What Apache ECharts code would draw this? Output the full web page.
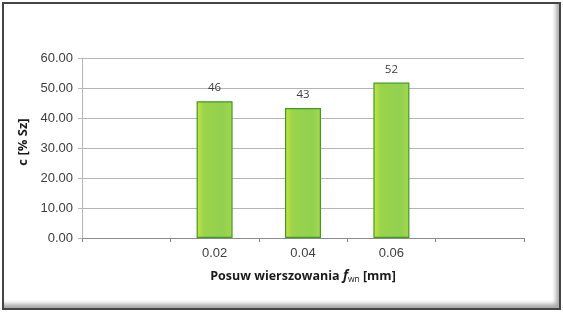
<!DOCTYPE html>
<html><head><meta charset="utf-8">
<script src="https://cdn.jsdelivr.net/npm/echarts@6/dist/echarts.min.js"></script>
<style>
html,body{margin:0;padding:0;background:#fff;}
#frame{position:absolute;left:2px;top:2px;width:555px;height:304px;border:2px solid #444;box-shadow:inset -3px -4px 4px rgba(0,0,0,0.35);background:#fff;}
#c{position:absolute;left:0;top:0;width:563px;height:314px;}
</style></head>
<body>
<div id="frame"></div>
<div id="c"></div>
<script>
var categories = ['', '0.02', '0.04', '0.06', ''];
var values = [null, 45.6, 43.3, 51.8, null];
var yTicks = [0, 10, 20, 30, 40, 50, 60];

var chart = echarts.init(document.getElementById('c'), null, {renderer:'canvas'});
chart.setOption({
  animation:false,
  backgroundColor:'transparent',
  grid:{left:82, right:39, top:58, bottom:76, containLabel:false},
  xAxis:{
    type:'category', data:categories, boundaryGap:true,
    axisLine:{lineStyle:{color:'#8c8c8c', width:1}},
    axisTick:{show:true, length:4, lineStyle:{color:'#8c8c8c'}},
    axisLabel:{color:'#404040', fontFamily:'Liberation Sans, Arial', fontSize:13, margin:9},
    name:'{b|Posuw wierszowania }{i|f}{s|wn}{b| [mm]}',
    nameLocation:'middle', nameGap:31,
    nameTextStyle:{rich:{
      b:{fontFamily:'Open Sans', fontWeight:'bold', fontSize:12.5, color:'#1a1a1a'},
      i:{fontFamily:'Open Sans', fontWeight:'bold', fontStyle:'italic', fontSize:13.5, color:'#1a1a1a'},
      s:{fontFamily:'Open Sans', fontSize:8.5, color:'#1a1a1a', verticalAlign:'bottom', padding:[6,0,0,0]}
    }}
  },
  yAxis:{
    type:'value', min:yTicks[0], max:yTicks[yTicks.length-1], interval:10,
    axisLine:{show:true, lineStyle:{color:'#b8b8b8'}},
    axisTick:{show:true, length:4, inside:false, lineStyle:{color:'#b8b8b8'}},
    splitLine:{lineStyle:{color:'#b5b5b5', width:1}},
    axisLabel:{color:'#404040', fontFamily:'Liberation Sans, Arial', fontSize:13, margin:9,
      formatter:function(v){return v.toFixed(2);}},
    name:'c [% Sz]', nameLocation:'middle', nameGap:51, nameRotate:90,
    nameTextStyle:{fontFamily:'Open Sans', fontWeight:'bold', fontSize:13, color:'#1a1a1a', padding:[0,0,0,12]}
  },
  series:[{
    type:'bar', data:values, barWidth:36,
    itemStyle:{
      color:new echarts.graphic.LinearGradient(0,0,1,0,[
        {offset:0,color:'#c8e638'},{offset:0.2,color:'#9ad44a'},{offset:0.75,color:'#92d050'},{offset:1,color:'#a4d948'}
      ]),
      borderColor:'#3f9a2a', borderWidth:1.2
    },
    label:{show:true, position:'top', distance:7, color:'#404040', fontFamily:'Open Sans', fontSize:11.5,
      formatter:function(p){return p.value==null?'':Math.round(p.value);}}
  }]
});
</script>
</body></html>
